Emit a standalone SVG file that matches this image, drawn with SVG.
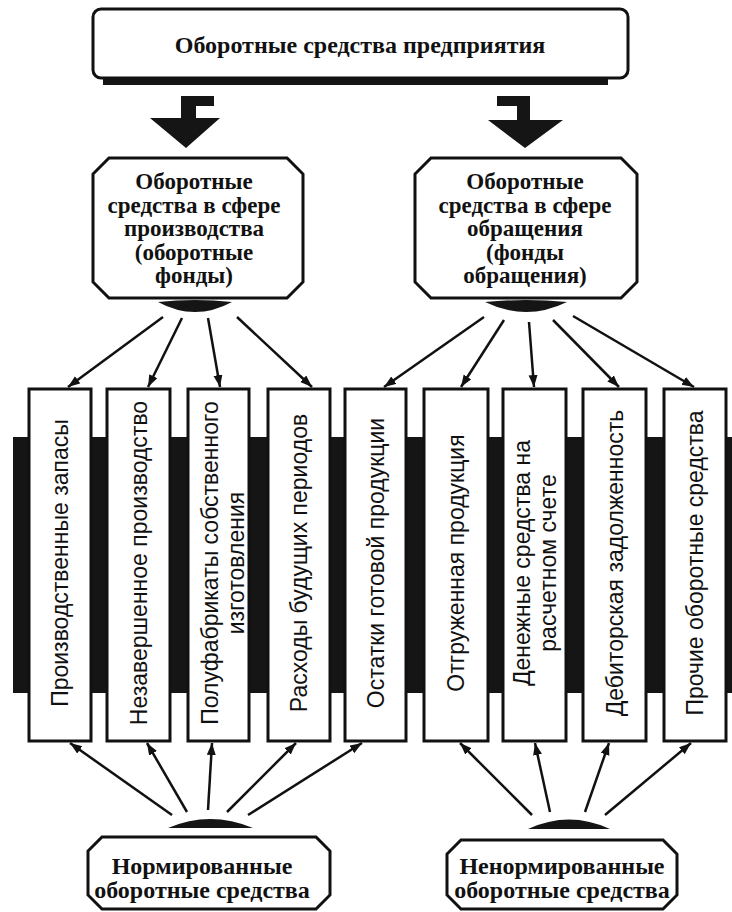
<svg xmlns="http://www.w3.org/2000/svg" width="732" height="912" viewBox="0 0 732 912">
<defs>
<marker id="ah" markerWidth="13" markerHeight="10" refX="12" refY="4.5" orient="auto" markerUnits="userSpaceOnUse">
<path d="M0,0 L12,4.5 L0,9 Z" fill="#111"/>
</marker>
<style>
.box{fill:#fff;stroke:#111;stroke-width:3}
.ser{font-family:"Liberation Serif","Times New Roman",serif;font-weight:bold;font-size:24px;fill:#111;text-anchor:middle}
.mid{font-size:23px}
.san{font-family:"Liberation Sans",Arial,sans-serif;font-size:23px;fill:#111;text-anchor:middle}
.ln{stroke:#111;stroke-width:2.5;fill:none;marker-end:url(#ah)}
.dk{fill:#151515}
</style>
</defs>
<rect width="732" height="912" fill="#fff"/>

<!-- dark band behind vertical boxes -->
<rect class="dk" x="13" y="437" width="719" height="256"/>

<g id="top">
<rect class="dk" x="103" y="76" width="505" height="9"/>
<rect class="box" x="93" y="9" width="535" height="69" rx="8"/>
<text class="ser" x="360" y="53">Оборотные средства предприятия</text>
</g>

<g id="bigarrows">
<polygon class="dk" points="181,96 214,96 214,106 196,106 196,118 220,118 186,148 150,118 181,118"/>
<polygon class="dk" points="497,96 530,96 530,120 563,120 525,148 488,120 517,120 517,106 497,106"/>
</g>

<g id="prod">
<polygon class="box" points="109,158 287,158 303,174 303,282 287,298 109,298 93,282 93,174"/>
<text class="ser mid" x="194" y="189">Оборотные</text>
<text class="ser mid" x="194" y="212.5">средства в сфере</text>
<text class="ser mid" x="194" y="236">производства</text>
<text class="ser mid" x="194" y="259.5">(оборотные</text>
<text class="ser mid" x="194" y="283">фонды)</text>
<path class="dk" d="M158,302 Q195,298 232,302 Q195,322 158,302 Z"/>
</g>

<g id="circ">
<polygon class="box" points="431,158 621,158 637,174 637,282 621,298 431,298 415,282 415,174"/>
<text class="ser mid" x="525" y="189">Оборотные</text>
<text class="ser mid" x="525" y="212.5">средства в сфере</text>
<text class="ser mid" x="525" y="236">обращения</text>
<text class="ser mid" x="525" y="259.5">(фонды</text>
<text class="ser mid" x="525" y="283">обращения)</text>
<path class="dk" d="M485,302 Q526,298 567,302 Q526,322 485,302 Z"/>
</g>

<g id="b1"><rect class="box" x="29" y="389" width="62" height="352"/>
<text class="san" transform="translate(60,563) rotate(-90)" y="8">Производственные запасы</text></g>
<g id="b2"><rect class="box" x="107" y="389" width="63" height="352"/>
<text class="san" transform="translate(138.5,563) rotate(-90)" y="8">Незавершенное производство</text></g>
<g id="b3"><rect class="box" x="188" y="389" width="61" height="352"/>
<text class="san" transform="translate(210,563) rotate(-90)" y="8">Полуфабрикаты собственного</text>
<text class="san" transform="translate(236,563) rotate(-90)" y="8">изготовления</text></g>
<g id="b4"><rect class="box" x="268" y="389" width="62" height="352"/>
<text class="san" transform="translate(299,563) rotate(-90)" y="8">Расходы будущих периодов</text></g>
<g id="b5"><rect class="box" x="345" y="389" width="61" height="352"/>
<text class="san" transform="translate(375.5,563) rotate(-90)" y="8">Остатки готовой продукции</text></g>
<g id="b6"><rect class="box" x="424" y="389" width="64" height="352"/>
<text class="san" transform="translate(456,563) rotate(-90)" y="8">Отгруженная продукция</text></g>
<g id="b7"><rect class="box" x="503" y="389" width="63" height="352"/>
<text class="san" transform="translate(522,563) rotate(-90)" y="8">Денежные средства на</text>
<text class="san" transform="translate(548,563) rotate(-90)" y="8">расчетном счете</text></g>
<g id="b8"><rect class="box" x="583" y="389" width="63" height="352"/>
<text class="san" transform="translate(614.5,563) rotate(-90)" y="8">Дебиторская задолженность</text></g>
<g id="b9"><rect class="box" x="664" y="389" width="62" height="352"/>
<text class="san" transform="translate(695,563) rotate(-90)" y="8">Прочие оборотные средства</text></g>

<g id="norm">
<path class="dk" d="M168,828 Q210,810 253,828 Z"/>
<polygon class="box" points="102,837 316,837 330,851 330,895 316,909 102,909 88,895 88,851"/>
<text class="ser" x="202" y="874">Нормированные</text>
<text class="ser" x="202" y="898">оборотные средства</text>
</g>

<g id="nonnorm">
<path class="dk" d="M528,829 Q569,810 610,829 Z"/>
<polygon class="box" points="461,840 663,840 677,854 677,895 663,909 461,909 447,895 447,854"/>
<text class="ser" x="562" y="874">Ненормированные</text>
<text class="ser" x="562" y="898">оборотные средства</text>
</g>

<g id="connectors">
<line class="ln" x1="163" y1="317" x2="68" y2="387"/>
<line class="ln" x1="182" y1="318" x2="148" y2="387"/>
<line class="ln" x1="208" y1="318" x2="220" y2="387"/>
<line class="ln" x1="237" y1="317" x2="312" y2="387"/>
<line class="ln" x1="484" y1="317" x2="384" y2="387"/>
<line class="ln" x1="504" y1="320" x2="461" y2="387"/>
<line class="ln" x1="529" y1="322" x2="534" y2="387"/>
<line class="ln" x1="553" y1="320" x2="619" y2="387"/>
<line class="ln" x1="573" y1="316" x2="694" y2="387"/>
<line class="ln" x1="172" y1="815" x2="70" y2="743"/>
<line class="ln" x1="187" y1="812" x2="147" y2="743"/>
<line class="ln" x1="208" y1="810" x2="212" y2="743"/>
<line class="ln" x1="227" y1="812" x2="296" y2="743"/>
<line class="ln" x1="248" y1="815" x2="362" y2="743"/>
<line class="ln" x1="532" y1="815" x2="460" y2="743"/>
<line class="ln" x1="550" y1="812" x2="535" y2="743"/>
<line class="ln" x1="585" y1="812" x2="609" y2="743"/>
<line class="ln" x1="605" y1="815" x2="691" y2="743"/>
</g>
</svg>
